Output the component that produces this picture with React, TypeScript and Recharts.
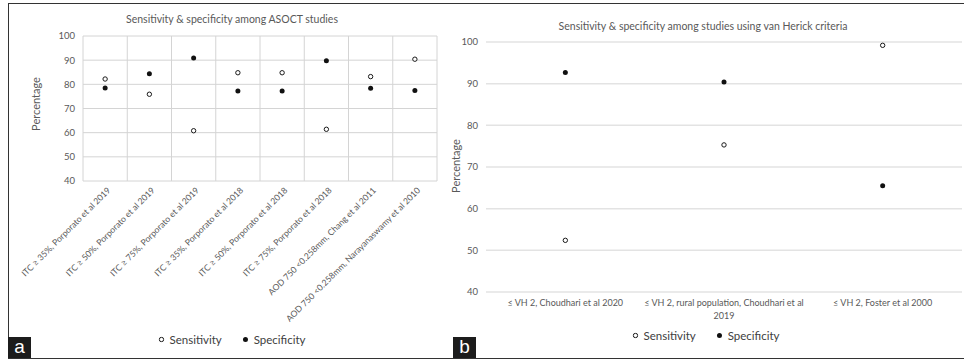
import React from 'react';
import { LineChart, Line, XAxis, YAxis, CartesianGrid, Text } from 'recharts';

// panel a: ASOCT studies
const asoctStudies = [
  'ITC ≥ 35%, Porporato et al 2019',
  'ITC ≥ 50%, Porporato et al 2019',
  'ITC ≥ 75%, Porporato et al 2019',
  'ITC ≥ 35%, Porporato et al 2018',
  'ITC ≥ 50%, Porporato et al 2018',
  'ITC ≥ 75%, Porporato et al 2018',
  'AOD 750 <0.258mm, Chang et al 2011',
  'AOD 750 <0.258mm, Narayanaswamy et al 2010',
];
const asoctSensitivity = [82.2, 75.9, 60.8, 84.8, 84.8, 61.4, 83.2, 90.4];
const asoctSpecificity = [78.5, 84.4, 90.9, 77.2, 77.2, 89.8, 78.4, 77.5];

// panel b: van Herick studies
const vhStudies = [
  '≤ VH 2, Choudhari et al 2020',
  '≤ VH 2, rural population, Choudhari et al 2019',
  '≤ VH 2, Foster et al 2000',
];
const vhSensitivity = [52.4, 75.3, 99.2];
const vhSpecificity = [92.7, 90.4, 65.5];

const percentTicks = [40, 50, 60, 70, 80, 90, 100];

const FONT = 'Lato, "Open Sans", sans-serif';
const GREY = '#595959';

const OpenDot = (props: any) => {
  const { cx, cy, index } = props;
  if (cx == null || cy == null) return null;
  return <circle key={`o-${index}`} cx={cx} cy={cy} r={2.2} fill="#fff" stroke="#1a1a1a" strokeWidth={1} />;
};

const FilledDot = (props: any) => {
  const { cx, cy, index } = props;
  if (cx == null || cy == null) return null;
  return <circle key={`f-${index}`} cx={cx} cy={cy} r={2.5} fill="#111" />;
};

const SlantTick = ({ x, y, payload }: any) => {
  const ax = x + 6;
  const ay = y + 2;
  return (
    <text
      x={ax}
      y={ay}
      transform={`rotate(-45, ${ax}, ${ay})`}
      textAnchor="end"
      fontSize={8.6}
      fontFamily={FONT}
      fill={GREY}
    >
      {payload.value}
    </text>
  );
};

const WrapTick = ({ x, y, payload }: any) => (
  <Text
    x={x}
    y={y}
    width={170}
    textAnchor="middle"
    verticalAnchor="start"
    lineHeight="1.35em"
    style={{ fontSize: '9px', fontFamily: FONT }}
    fill={GREY}
  >
    {payload.value}
  </Text>
);

const LegendRow = ({ left, top }: { left: number; top: number }) => (
  <div
    style={{
      position: 'absolute',
      left,
      top,
      transform: 'translate(-50%, -50%)',
      display: 'flex',
      alignItems: 'center',
      gap: 5,
      fontFamily: FONT,
      fontSize: 11.5,
      color: '#404040',
      whiteSpace: 'nowrap',
    }}
  >
    <svg width={6} height={6}>
      <circle cx={3} cy={3} r={2.2} fill="#fff" stroke="#1a1a1a" strokeWidth={1} />
    </svg>
    <span style={{ marginRight: 16 }}>Sensitivity</span>
    <svg width={6} height={6}>
      <circle cx={3} cy={3} r={2.5} fill="#111" />
    </svg>
    <span>Specificity</span>
  </div>
);

const Title = ({ left, top, children }: any) => (
  <div
    style={{
      position: 'absolute',
      left,
      top,
      transform: 'translate(-50%, -50%)',
      fontFamily: FONT,
      fontSize: 10.5,
      color: GREY,
      whiteSpace: 'nowrap',
    }}
  >
    {children}
  </div>
);

const AxisTitle = ({ left, top }: { left: number; top: number }) => (
  <div
    style={{
      position: 'absolute',
      left,
      top,
      transform: 'translate(-50%, -50%) rotate(-90deg)',
      fontFamily: FONT,
      fontSize: 11,
      color: GREY,
      whiteSpace: 'nowrap',
    }}
  >
    Percentage
  </div>
);

const PanelTag = ({ left, label }: { left: number; label: string }) => (
  <div
    style={{
      position: 'absolute',
      left,
      top: 337,
      width: 23,
      height: 21,
      background: '#1c1c1c',
      color: '#fff',
      fontFamily: '"Liberation Sans", Arial, sans-serif',
      fontSize: 19,
      lineHeight: '20px',
      textAlign: 'center',
    }}
  >
    {label}
  </div>
);

export default function App() {
  const asoctData = asoctStudies.map((name, i) => ({
    name,
    sensitivity: asoctSensitivity[i],
    specificity: asoctSpecificity[i],
  }));
  const vhData = vhStudies.map((name, i) => ({
    name,
    sensitivity: vhSensitivity[i],
    specificity: vhSpecificity[i],
  }));

  const n = asoctData.length;

  return (
    <div style={{ position: 'relative', width: 964, height: 360, background: '#fff', overflow: 'hidden' }}>
      <style>{'body{margin:0}'}</style>

      {/* frame */}
      <div
        style={{
          position: 'absolute',
          left: 8,
          top: 3,
          width: 964,
          height: 354,
          borderTop: '1.5px solid #333',
          borderLeft: '1.5px solid #333',
          borderBottom: '1.5px solid #333',
        }}
      />

      {/* panel a */}
      <div style={{ position: 'absolute', left: 0, top: 0 }}>
        <LineChart width={440} height={360} data={asoctData} margin={{ top: 36, right: 3, bottom: 29, left: 0 }}>
          <CartesianGrid
            stroke="#d4d4d4"
            verticalCoordinatesGenerator={({ offset }: any) =>
              Array.from({ length: n + 1 }, (_, i) => offset.left + (offset.width * i) / n)
            }
          />
          <XAxis
            dataKey="name"
            scale="band"
            height={150}
            interval={0}
            tickLine={false}
            axisLine={false}
            tick={<SlantTick />}
          />
          <YAxis
            width={83}
            domain={[40, 100]}
            ticks={percentTicks}
            tickLine={false}
            axisLine={false}
            tick={{ fontSize: 9.5, fill: GREY, fontFamily: FONT }}
          />
          <Line dataKey="sensitivity" stroke="none" dot={OpenDot} activeDot={false} isAnimationActive={false} />
          <Line dataKey="specificity" stroke="none" dot={FilledDot} activeDot={false} isAnimationActive={false} />
        </LineChart>
      </div>

      {/* panel b */}
      <div style={{ position: 'absolute', left: 440, top: 0 }}>
        <LineChart width={524} height={360} data={vhData} margin={{ top: 42, right: 2, bottom: 28, left: 0 }}>
          <CartesianGrid stroke="#e3e3e3" strokeWidth={1.5} vertical={false} />
          <XAxis
            dataKey="name"
            scale="band"
            height={40}
            interval={0}
            tickLine={false}
            axisLine={false}
            tick={(props: any) => <WrapTick {...props} />}
          />
          <YAxis
            width={46}
            domain={[40, 100]}
            ticks={percentTicks}
            tickLine={false}
            axisLine={false}
            tick={{ fontSize: 9.5, fill: GREY, fontFamily: FONT }}
          />
          <Line dataKey="sensitivity" stroke="none" dot={OpenDot} activeDot={false} isAnimationActive={false} />
          <Line dataKey="specificity" stroke="none" dot={FilledDot} activeDot={false} isAnimationActive={false} />
        </LineChart>
      </div>

      <Title left={232} top={19}>Sensitivity &amp; specificity among ASOCT studies</Title>
      <Title left={703} top={26}>Sensitivity &amp; specificity among studies using van Herick criteria</Title>

      <AxisTitle left={35} top={104} />
      <AxisTitle left={455} top={166} />

      <LegendRow left={232} top={339} />
      <LegendRow left={706} top={335} />

      <PanelTag left={8} label="a" />
      <PanelTag left={453} label="b" />
    </div>
  );
}
